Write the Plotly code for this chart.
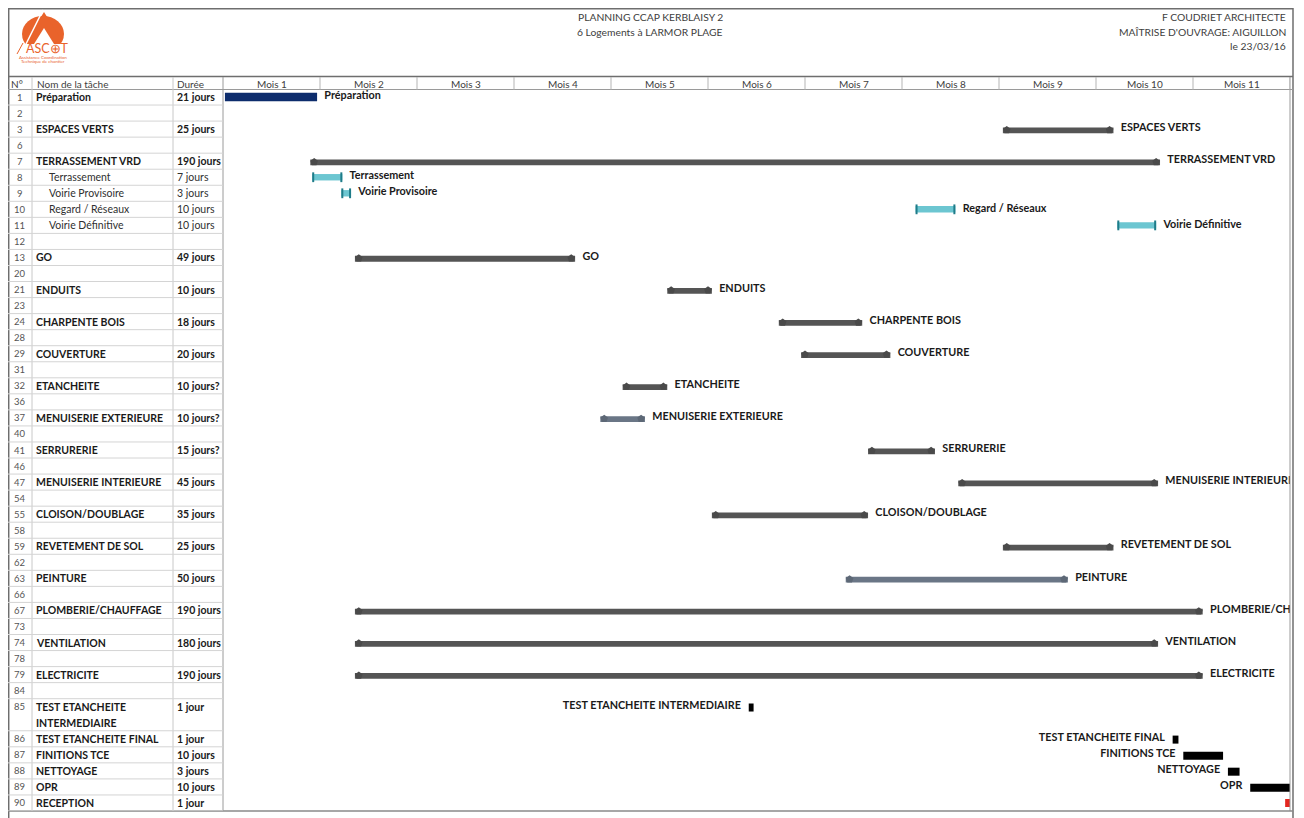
import plotly.graph_objects as go

OFF = 8  # page body margin
W, H = 1304 - OFF, 818 - OFF
FONT = "Lato"

# ---------------- DATA ----------------
row_ids = ["1", "2", "3", "6", "7", "8", "9", "10", "11", "12", "13", "20", "21", "23", "24", "28",
           "29", "31", "32", "36", "37", "40", "41", "46", "47", "54", "55", "58", "59", "62", "63",
           "66", "67", "73", "74", "78", "79", "84", "85", "86", "87", "88", "89", "90"]
row_names = ["Préparation", "", "ESPACES VERTS", "", "TERRASSEMENT VRD", "Terrassement", "Voirie Provisoire",
             "Regard / Réseaux", "Voirie Définitive", "", "GO", "", "ENDUITS", "", "CHARPENTE BOIS", "",
             "COUVERTURE", "", "ETANCHEITE", "", "MENUISERIE EXTERIEURE", "", "SERRURERIE", "",
             "MENUISERIE INTERIEURE", "", "CLOISON/DOUBLAGE", "", "REVETEMENT DE SOL", "", "PEINTURE", "",
             "PLOMBERIE/CHAUFFAGE", "", "VENTILATION", "", "ELECTRICITE", "",
             "TEST ETANCHEITE|INTERMEDIAIRE", "TEST ETANCHEITE FINAL", "FINITIONS TCE", "NETTOYAGE", "OPR",
             "RECEPTION"]
row_durations = ["21 jours", "", "25 jours", "", "190 jours", "7 jours", "3 jours", "10 jours", "10 jours", "",
                 "49 jours", "", "10 jours", "", "18 jours", "", "20 jours", "", "10 jours?", "", "10 jours?",
                 "", "15 jours?", "", "45 jours", "", "35 jours", "", "25 jours", "", "50 jours", "",
                 "190 jours", "", "180 jours", "", "190 jours", "", "1 jour", "1 jour", "10 jours", "3 jours",
                 "10 jours", "1 jour"]
sub_rows = ["8", "9", "10", "11"]
double_rows = ["85"]

month_labels = ["Mois %d" % k for k in range(1, 12)]

# bars: row, label, start (month), end (month), kind
bar_rows = ["1", "3", "7", "8", "9", "10", "11", "13", "21", "24", "29", "32", "37", "41", "47", "55", "59",
            "63", "67", "74", "79", "85", "86", "87", "88", "89", "90"]
bar_labels = ["Préparation", "ESPACES VERTS", "TERRASSEMENT VRD", "Terrassement", "Voirie Provisoire",
              "Regard / Réseaux", "Voirie Définitive", "GO", "ENDUITS", "CHARPENTE BOIS", "COUVERTURE",
              "ETANCHEITE", "MENUISERIE EXTERIEURE", "SERRURERIE", "MENUISERIE INTERIEURE", "CLOISON/DOUBLAGE",
              "REVETEMENT DE SOL", "PEINTURE", "PLOMBERIE/CHAUFFAGE", "VENTILATION", "ELECTRICITE",
              "TEST ETANCHEITE INTERMEDIAIRE", "TEST ETANCHEITE FINAL", "FINITIONS TCE", "NETTOYAGE", "OPR",
              ""]
bar_start = [0.02, 8.04, 0.90, 0.92, 1.22, 7.14, 9.22, 1.36, 4.58, 5.73, 5.96, 4.12, 3.89, 6.65, 7.58, 5.04,
             8.04, 6.42, 1.36, 1.36, 1.36, 5.42, 9.79, 9.90, 10.36, 10.59, 10.95]
bar_end = [0.97, 9.18, 9.66, 1.23, 1.32, 7.55, 9.62, 3.63, 5.04, 6.59, 6.88, 4.58, 4.35, 7.34, 9.64, 6.65,
           9.18, 8.71, 10.10, 9.64, 10.10, 5.47, 9.85, 10.31, 10.48, 11.10, 11.10]
bar_kind = ["navy", "summary", "summary", "sub", "sub", "sub", "sub", "summary", "summary", "summary",
            "summary", "summary", "light", "summary", "summary", "summary", "summary", "light", "summary",
            "summary", "summary", "black", "black", "black", "black", "black", "red"]
label_left = ["85", "86", "87", "88", "89"]

# ---------------- helpers ----------------
def X(px):
    return (px - OFF) / W


def Y(py):
    return 1 - (py - OFF) / H


TOP_PX, BOT_PX = 89, 811
LEFT_PX, RIGHT_PX = 223, 1290

row_top = {}
acc = 0
for r in row_ids:
    row_top[r] = acc
    acc += 2 if r in double_rows else 1
N_UNITS = acc

fig = go.Figure()

styles = {
    "navy": dict(color="#0d2c6c", width=0.52, dy=0.0),
    "summary": dict(color="#555555", width=0.36, dy=0.08),
    "light": dict(color="#6a7686", width=0.36, dy=0.08),
    "sub": dict(color="#6cc6d1", width=0.40, dy=0.0),
    "black": dict(color="#000000", width=0.50, dy=0.05),
    "red": dict(color="#e3261f", width=0.50, dy=0.0),
}

for kind, st in styles.items():
    idx = [i for i, k in enumerate(bar_kind) if k == kind]
    if not idx:
        continue
    fig.add_trace(go.Bar(
        orientation="h",
        y=[row_top[bar_rows[i]] + 0.5 + st["dy"] for i in idx],
        base=[bar_start[i] for i in idx],
        x=[bar_end[i] - bar_start[i] for i in idx],
        width=st["width"],
        marker=dict(color=st["color"], line=dict(width=0)),
        showlegend=False, hoverinfo="skip",
    ))

# end caps for summary bars
cap_x, cap_y, cap_c = [], [], []
for i, k in enumerate(bar_kind):
    if k in ("summary", "light"):
        yy = row_top[bar_rows[i]] + 0.5 + 0.05
        for xx in (bar_start[i] + 0.04, bar_end[i] - 0.04):
            cap_x.append(xx)
            cap_y.append(yy)
            cap_c.append("#4a4a4a" if k == "summary" else "#5d6876")
fig.add_trace(go.Scatter(x=cap_x, y=cap_y, mode="markers",
                         marker=dict(symbol="pentagon", size=8, color=cap_c, line=dict(width=0)),
                         showlegend=False, hoverinfo="skip"))

# end ticks for sub-task bars
tick_x, tick_y = [], []
for i, k in enumerate(bar_kind):
    if k == "sub":
        yy = row_top[bar_rows[i]] + 0.5
        tick_x += [bar_start[i] + 0.01, bar_end[i] - 0.01]
        tick_y += [yy, yy]
fig.add_trace(go.Scatter(x=tick_x, y=tick_y, mode="markers",
                         marker=dict(symbol="line-ns", size=7, line=dict(width=2, color="#1f7c89")),
                         showlegend=False, hoverinfo="skip"))

# bar labels (clipped by axis area)
rx, ry, rt = [], [], []
lx, ly, lt = [], [], []
for i, lab in enumerate(bar_labels):
    if not lab:
        continue
    yy = row_top[bar_rows[i]] + 0.5 - 0.03
    if bar_rows[i] in label_left:
        lx.append(bar_start[i] - 0.08)
        ly.append(yy)
        lt.append("<b>%s</b>" % lab)
    else:
        rx.append(bar_end[i] + 0.075)
        ry.append(yy)
        rt.append("<b>%s</b>" % lab)
LBL = dict(family=FONT, size=10.8, color="#1a1a1a")
fig.add_trace(go.Scatter(x=rx, y=ry, text=rt, mode="text", textposition="middle right",
                         textfont=LBL, cliponaxis=True, showlegend=False, hoverinfo="skip"))
fig.add_trace(go.Scatter(x=lx, y=ly, text=lt, mode="text", textposition="middle left",
                         textfont=LBL, cliponaxis=True, showlegend=False, hoverinfo="skip"))

shapes = []
annotations = []

LINE_LIGHT = "#d4d4d4"
FRAME = "#6e6e6e"

# outer frame
shapes.append(dict(type="line", xref="paper", yref="paper", x0=X(8), x1=X(1293), y0=Y(8.5), y1=Y(8.5),
                   line=dict(color=FRAME, width=2)))
shapes.append(dict(type="line", xref="paper", yref="paper", x0=X(8.7), x1=X(8.7), y0=Y(8), y1=Y(818),
                   line=dict(color=FRAME, width=1.5)))
shapes.append(dict(type="line", xref="paper", yref="paper", x0=X(1293), x1=X(1293), y0=Y(8), y1=Y(818),
                   line=dict(color=FRAME, width=1.5)))
shapes.append(dict(type="line", xref="paper", yref="paper", x0=X(1290), x1=X(1290), y0=Y(77), y1=Y(811),
                   line=dict(color="#9a9a9a", width=1)))
# header separator lines
shapes.append(dict(type="line", xref="paper", yref="paper", x0=X(8), x1=X(1293), y0=Y(76.5), y1=Y(76.5),
                   line=dict(color=FRAME, width=1.5)))
shapes.append(dict(type="line", xref="paper", yref="paper", x0=X(8), x1=X(1293), y0=Y(89.5), y1=Y(89.5),
                   line=dict(color="#9a9a9a", width=1)))
shapes.append(dict(type="line", xref="paper", yref="paper", x0=X(8), x1=X(1293), y0=Y(811), y1=Y(811),
                   line=dict(color="#8a8a8a", width=1.5)))

# table vertical lines
for xp, col in ((32, "#c8c8c8"), (173, "#c8c8c8"), (223, "#9a9a9a")):
    shapes.append(dict(type="line", xref="paper", yref="paper", x0=X(xp), x1=X(xp), y0=Y(77), y1=Y(811),
                       line=dict(color=col, width=1)))
# table horizontal row lines
for r in row_ids:
    t = row_top[r] + (2 if r in double_rows else 1)
    shapes.append(dict(type="line", xref="paper", yref="y", x0=X(8), x1=X(223), y0=t, y1=t,
                       line=dict(color=LINE_LIGHT, width=1)))

# month header dividers and labels
for k, lab in enumerate(month_labels):
    shapes.append(dict(type="line", xref="x", yref="paper", x0=k + 1, x1=k + 1, y0=Y(77), y1=Y(89.5),
                       line=dict(color="#b5b5b5", width=1)))
    annotations.append(dict(xref="x", yref="paper", x=k + 0.5, y=Y(83.5), text=lab, showarrow=False,
                            xanchor="center", yanchor="middle",
                            font=dict(family=FONT, size=10, color="#404040")))

# column headers
for xp, txt in ((9, "N°"), (35, "Nom de la tâche"), (175, "Durée")):
    annotations.append(dict(xref="paper", yref="paper", x=X(xp), y=Y(83.5), text=txt, showarrow=False,
                            xanchor="left", yanchor="middle", font=dict(family=FONT, size=10, color="#404040")))

# table body text
TBL = 10.5
for r, name, dur in zip(row_ids, row_names, row_durations):
    yc = row_top[r] + 0.5
    annotations.append(dict(xref="paper", yref="y", x=X(19.5), y=yc, text=r, showarrow=False,
                            xanchor="center", yanchor="middle", font=dict(family=FONT, size=9.5, color="#555555")))
    is_sub = r in sub_rows
    if name:
        for j, ln in enumerate(name.split("|")):
            txt = ln if is_sub else "<b>%s</b>" % ln
            annotations.append(dict(xref="paper", yref="y", x=X(47 if is_sub else 34), y=yc + j, text=txt,
                                    showarrow=False, xanchor="left", yanchor="middle",
                                    font=dict(family=FONT, size=TBL, color="#303030" if is_sub else "#1a1a1a")))
    if dur:
        annotations.append(dict(xref="paper", yref="y", x=X(175), y=yc,
                                text=dur if is_sub else "<b>%s</b>" % dur, showarrow=False,
                                xanchor="left", yanchor="middle",
                                font=dict(family=FONT, size=TBL, color="#303030" if is_sub else "#1a1a1a")))

# page header texts
HDR = dict(family=FONT, size=10.3, color="#404040")
for yy, txt in ((17, "PLANNING CCAP KERBLAISY 2"), (32, "6 Logements à LARMOR PLAGE")):
    annotations.append(dict(xref="paper", yref="paper", x=X(650), y=Y(yy), text=txt, showarrow=False,
                            xanchor="center", yanchor="middle", font=HDR))
for yy, txt in ((17, "F COUDRIET ARCHITECTE"), (32, "MAÎTRISE D'OUVRAGE: AIGUILLON"), (46, "le 23/03/16")):
    annotations.append(dict(xref="paper", yref="paper", x=X(1288), y=Y(yy), text=txt, showarrow=False,
                            xanchor="right", yanchor="middle", font=HDR))

# logo (approximation)
ORANGE = "#e9632b"
shapes.append(dict(type="circle", xref="paper", yref="paper", x0=X(22), x1=X(64), y0=Y(16), y1=Y(52),
                   fillcolor=ORANGE, line=dict(width=0)))
shapes.append(dict(type="rect", xref="paper", yref="paper", x0=X(18), x1=X(70), y0=Y(44), y1=Y(54),
                   fillcolor="white", line=dict(width=0)))
shapes.append(dict(type="path", xref="paper", yref="paper",
                   path="M %f %f L %f %f L %f %f Z" % (X(44), Y(12), X(29), Y(36), X(59), Y(36)),
                   fillcolor=ORANGE, line=dict(width=0)))
shapes.append(dict(type="path", xref="paper", yref="paper",
                   path="M %f %f L %f %f L %f %f Z" % (X(44), Y(28), X(34), Y(44), X(54), Y(44)),
                   fillcolor="white", line=dict(width=0)))
shapes.append(dict(type="line", xref="paper", yref="paper", x0=X(22), x1=X(43), y0=Y(52), y1=Y(10),
                   line=dict(color="white", width=1.5)))
shapes.append(dict(type="line", xref="paper", yref="paper", x0=X(17), x1=X(23), y0=Y(54), y1=Y(43),
                   line=dict(color=ORANGE, width=1)))
annotations.append(dict(xref="paper", yref="paper", x=X(47), y=Y(49), text="ASC⊕T", showarrow=False,
                        xanchor="center", yanchor="middle", font=dict(family=FONT, size=12.5, color=ORANGE)))
annotations.append(dict(xref="paper", yref="paper", x=X(43), y=Y(57.5), text="Assistance Coordination",
                        showarrow=False, xanchor="center", yanchor="middle",
                        font=dict(family=FONT, size=4.5, color=ORANGE)))
annotations.append(dict(xref="paper", yref="paper", x=X(43), y=Y(62), text="Technique de chantier",
                        showarrow=False, xanchor="center", yanchor="middle",
                        font=dict(family=FONT, size=4.5, color=ORANGE)))

fig.update_layout(
    width=W, height=H,
    margin=dict(l=0, r=0, t=0, b=0),
    paper_bgcolor="white", plot_bgcolor="white",
    barmode="overlay",
    showlegend=False,
    xaxis=dict(domain=[X(LEFT_PX), X(RIGHT_PX)], range=[0, 11], visible=False, fixedrange=True),
    yaxis=dict(domain=[Y(BOT_PX), Y(TOP_PX)], range=[N_UNITS, 0], visible=False, fixedrange=True),
    shapes=shapes,
    annotations=annotations,
)

fig.write_html("out.html")
